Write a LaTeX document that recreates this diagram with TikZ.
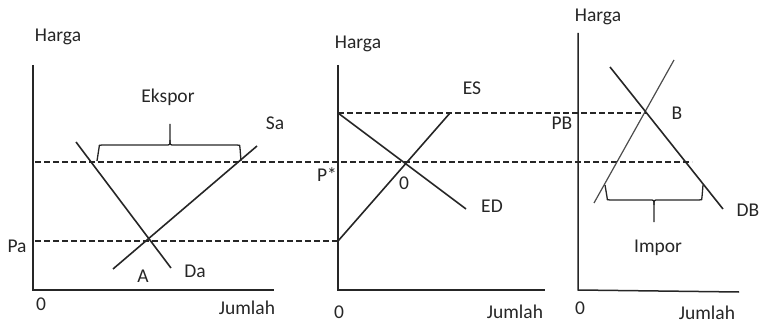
\documentclass[tikz,border=0pt]{standalone}
\usepackage{fontspec}
\setmainfont{Carlito}
\begin{document}
\begin{tikzpicture}[x=1pt,y=-1pt,
  lbl/.style={anchor=base,inner sep=0pt,font=\fontsize{19.5}{21}\selectfont,text=black!85},
  axis/.style={line width=1.5pt,draw=black!85},
  curve/.style={line width=1.6pt,draw=black!85},
  thin curve/.style={line width=1.2pt,draw=black!70},
  dline/.style={line width=1.1pt,draw=black!85,dash pattern=on 6pt off 3pt},
  bracestyle/.style={line width=1.3pt,draw=black!85}]
\useasboundingbox (0,0) rectangle (760,323);
% ---------- panel 1
\coordinate (o1) at (33,290);
\coordinate (y1) at (33,65);
\coordinate (x1) at (274,290);
\draw[axis] (y1) -- (o1) -- (x1);
\coordinate (da1) at (76,142);
\coordinate (da2) at (171,268);
\coordinate (sa1) at (113,269);
\coordinate (sa2) at (257,146);
\draw[curve] (da1) -- (da2);
\draw[curve] (sa1) -- (sa2);
% dashed lines
\coordinate (pa0) at (35,241);
\coordinate (pa1) at (338,241);
\coordinate (pw0) at (35,162);
\coordinate (pw1) at (692,162);
\coordinate (pt0) at (338,113);
\coordinate (pt1) at (646,113);
\draw[dline] (pa0) -- (pa1);
\draw[dline] (pw0) -- (pw1);
\draw[dline] (pt0) -- (pt1);
% Ekspor brace
\coordinate (eb1) at (97,161);
\coordinate (eb2) at (241,161);
\coordinate (ebt) at (170,124);
\draw[bracestyle] (eb1) -- (99,148) .. controls (99,145) .. (102,145) -- (166,145)
  .. controls (170,145) .. (170,140) -- (ebt);
\draw[bracestyle] (eb2) -- (240,148) .. controls (240,145) .. (237,145) -- (174,145)
  .. controls (170,145) .. (170,140);
\node[lbl] (harga1) at (58,42) {Harga};
\node[lbl] (ekspor) at (168,103) {Ekspor};
\node[lbl] (sa) at (275,130) {Sa};
\node[lbl] (pa) at (17,252) {Pa};
\node[lbl] (a) at (143,282) {A};
\node[lbl] (da) at (195,277) {Da};
\node[lbl] (zero1) at (41,310) {0};
\node[lbl] (jumlah1) at (247,314) {Jumlah};
% ---------- panel 2
\coordinate (o2) at (338,290);
\coordinate (y2) at (338,65);
\coordinate (x2) at (545,290);
\draw[axis] (y2) -- (o2) -- (x2);
\coordinate (es1) at (338,241);
\coordinate (es2) at (450,113);
\coordinate (ed1) at (338,113);
\coordinate (ed2) at (466,209);
\draw[curve] (es1) -- (es2);
\draw[curve] (ed1) -- (ed2);
\node[lbl] (harga2) at (358,49) {Harga};
\node[lbl] (es) at (472,95) {ES};
\node[lbl] (pstar) at (327,182) {P*};
\node[lbl] (zeroeq) at (404,190) {0};
\node[lbl] (ed) at (492,212) {ED};
\node[lbl] (zero2) at (339,318) {0};
\node[lbl] (jumlah2) at (515,318) {Jumlah};
% ---------- panel 3
\coordinate (o3) at (578,290);
\coordinate (y3) at (578,33);
\coordinate (x3) at (739,292);
\draw[axis] (y3) -- (o3) -- (x3);
\coordinate (sb1) at (594,203);
\coordinate (sb2) at (674,60);
\coordinate (db1) at (610,67);
\coordinate (db2) at (723,209);
\draw[thin curve] (sb1) -- (sb2);
\draw[curve] (db1) -- (db2);
% Impor brace
\coordinate (ib1) at (605,185);
\coordinate (ib2) at (703,185);
\coordinate (ibt) at (654,222);
\draw[bracestyle] (ib1) -- (607,197) .. controls (607,200) .. (610,200) -- (650,200)
  .. controls (654,200) .. (654,205) -- (ibt);
\draw[bracestyle] (ib2) -- (702,197) .. controls (702,200) .. (699,200) -- (658,200)
  .. controls (654,200) .. (654,205);
\node[lbl] (harga3) at (598,22) {Harga};
\node[lbl] (b) at (677,120) {B};
\node[lbl] (pb) at (562,130) {PB};
\node[lbl] (db) at (748,217) {DB};
\node[lbl] (impor) at (658,252) {Impor};
\node[lbl] (zero3) at (580,314) {0};
\node[lbl] (jumlah3) at (707,319) {Jumlah};
\end{tikzpicture}
\end{document}
